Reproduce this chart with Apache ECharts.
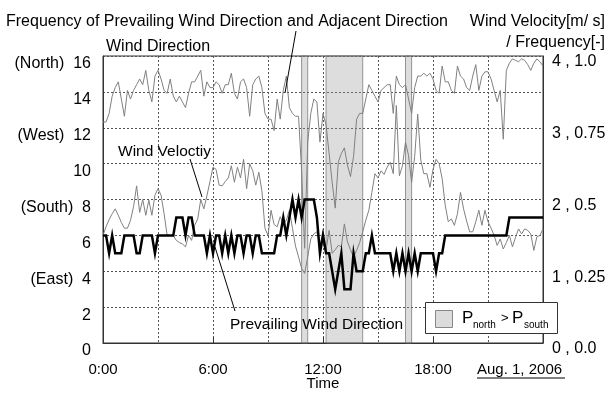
<!DOCTYPE html>
<html><head><meta charset="utf-8">
<script src="https://cdn.jsdelivr.net/npm/echarts@6/dist/echarts.min.js"></script>
<style>html,body{margin:0;padding:0;background:#fff}#c{width:615px;height:393px}</style>
</head><body><div id="c"></div>
<script>
// 10-minute time steps for Aug. 1, 2006
const times = [];
for (let i = 0; i <= 144; i++) { const m = i * 10; times.push(Math.floor(m / 60) + ':' + String(m % 60).padStart(2, '0')); }
const xTickLabels = ['0:00', '6:00', '12:00', '18:00'];
const dirTickValues = [16, 12, 8, 4];
const dirTickNames = ['(North)', '(West)', '(South)', '(East)'];
const velTickFreq = ['0.0', '0.25', '0.5', '0.75', '1.0'];

// Frequency of prevailing wind direction and adjacent direction [-]
const freq = [
0.77,0.77,0.80,0.86,0.89,0.91,0.85,0.79,0.88,0.85, 0.88,0.90,0.92,0.90,0.95,0.88,0.84,0.93,0.95,0.92,
0.88,0.87,0.92,0.86,0.84,0.86,0.84,0.82,0.87,0.91, 0.91,0.93,0.95,0.86,0.91,0.89,0.89,0.91,0.90,0.87,
0.90,0.90,0.94,0.87,0.85,0.91,0.92,0.89,
0.79,0.90,0.92,0.93,0.89,0.80,0.78,0.78,0.74,0.85, 0.78,0.88,0.93,0.82,0.80,0.79,0.79,0.60,0.33,0.70,
0.80,0.85,0.84,0.70,0.80,0.76,0.66,0.56,0.47,0.63, 0.66,0.68,0.62,0.58,0.65,0.78,0.80,0.80,0.85,0.90,
0.88,0.86,0.84,0.88,0.89,0.90,0.90,0.80,
0.93,0.90,0.89,0.90,0.85,0.80,0.89,0.93,0.93,0.94, 0.93,0.94,0.92,0.88,0.87,0.965,0.91,0.91,0.88,0.87,
0.965,0.93,0.92,0.89,0.88,0.93,0.97,0.88,0.93,0.945, 0.945,0.92,0.88,0.84,0.88,0.71,0.95,0.975,0.99,0.985,
0.98,0.99,0.985,0.97,0.95,0.975,0.99,0.98,0.965
];
// Wind velocity [m/s]
const velocity = [
1.50,1.62,1.72,1.80,1.87,1.78,1.68,1.60,1.60,1.71, 1.90,2.19,1.82,2.00,1.78,1.99,1.78,2.06,2.15,2.06,
1.80,1.50,1.50,1.50,1.43,1.40,1.38,1.34,1.50,1.43, 1.64,1.73,2.00,1.87,2.05,2.25,2.45,2.42,2.20,2.19,
2.25,2.30,2.47,2.24,2.45,2.30,2.56,2.15,
2.50,2.40,2.20,2.38,2.12,1.60,1.50,1.85,1.65,1.62, 1.76,1.66,1.71,1.85,1.60,1.35,1.20,1.04,0.97,1.20,
1.45,1.52,1.55,1.34,1.57,1.30,1.57,1.25,1.30,1.36, 1.34,1.66,1.41,1.30,1.20,1.29,1.40,1.55,1.71,1.85,
2.10,2.36,2.30,2.40,2.35,2.45,2.52,2.36,
3.31,2.33,2.47,2.80,2.61,2.24,2.60,3.19,2.55,2.36, 2.36,2.17,2.42,2.56,2.50,2.29,1.92,1.69,1.73,1.64,
1.80,2.10,1.87,1.70,1.55,1.55,1.69,1.85,1.64,1.85, 1.69,1.60,1.50,1.36,1.45,1.31,1.40,1.50,1.34,1.47,
1.59,1.52,1.59,1.57,1.52,1.29,1.48,1.50,1.59
];
// Prevailing wind direction (16 directions)
const direction = [
6,6,5,6,5,5,5,6,6,6, 6,5,5,6,6,6,6,5,6,6, 6,6,6,6,7,7,7,6,7,7, 6,6,6,6,5,6,5,6,6,5, 6,5,6,5,6,6,5,6,
6,5,6,6,5,5,5,5,5,6, 6,7,6,7,8,7,8,7,8,8, 8,8,7,5,6,5,5,4,3,4, 5,3,3,3,5,4,4,4,5,5, 6,5,5,5,5,5,5,4,
5,4,5,4,5,4,5,4,5,5, 5,5,5,4,5,5,6,6,6,6, 6,6,6,6,6,6,6,6,6,6, 6,6,6,6,6,6,6,7,7,7, 7,7,7,7,7,7,7,7,7
];
// Periods where P_north > P_south
const bandStart = ['10:50', '12:10', '16:30'];
const bandEnd = ['11:10', '14:10', '16:50'];

const FONT = '"Liberation Sans", Arial, sans-serif';
const chart = echarts.init(document.getElementById('c'), null, { renderer: 'canvas' });
const gridLine = { show: true, lineStyle: { color: '#555', type: [2, 2], width: 1 } };
const txt = (x, y, text, size, align, z) => ({ type: 'text', x, y, z: z || 10,
  style: { text, font: size + 'px ' + FONT, fill: '#000', textAlign: align, textVerticalAlign: 'middle', verticalAlign: 'middle' } });

chart.setOption({
  animation: false,
  textStyle: { fontFamily: FONT },
  grid: { left: 103, right: 72, top: 56, bottom: 50, show: true, borderColor: '#333', borderWidth: 1, backgroundColor: 'transparent' },
  xAxis: {
    type: 'category', data: times, boundaryGap: false,
    axisLine: { show: true, lineStyle: { color: '#333' } },
    axisTick: { show: true, inside: true, length: 6, interval: (i) => i % 36 === 0, lineStyle: { color: '#333' } },
    axisLabel: { interval: 0, formatter: (v) => xTickLabels.includes(v) ? v : '', fontSize: 15, color: '#000', margin: 19, fontFamily: FONT },
    splitLine: { show: true, interval: (i) => i % 18 === 0 && i > 0 && i < 144, lineStyle: { color: '#555', type: [2, 2], width: 1 } }
  },
  yAxis: [
    { type: 'value', min: 0, max: 16, interval: 2,
      axisLine: { show: true, lineStyle: { color: '#333' } }, axisTick: { show: false },
      axisLabel: { fontSize: 16, color: '#000', margin: 12, verticalAlign: 'top', fontFamily: FONT,
        formatter: (v) => { const k = dirTickValues.indexOf(v); return k >= 0 ? dirTickNames[k] + '  ' + v : String(v); } },
      splitLine: gridLine },
    { type: 'value', min: 0, max: 4, interval: 1, position: 'right',
      axisLine: { show: true, lineStyle: { color: '#333' } }, axisTick: { show: false },
      axisLabel: { fontSize: 16, color: '#000', margin: 9, verticalAlign: 'top', padding: [-2, 0, 0, 0], fontFamily: FONT,
        formatter: (v) => v + ' , ' + velTickFreq[v] },
      splitLine: { show: false } },
    { type: 'value', min: 0, max: 1, show: false, splitLine: { show: false } }
  ],
  series: [
    { name: 'Frequency', type: 'line', yAxisIndex: 2, data: freq, showSymbol: false, z: 3,
      lineStyle: { color: '#808080', width: 1 }, itemStyle: { color: '#808080' },
      markArea: { silent: true,
        itemStyle: { color: 'rgba(150,150,150,0.32)', borderColor: 'rgba(110,110,110,0.7)', borderWidth: 1 },
        data: bandStart.map((s, k) => [{ xAxis: s }, { xAxis: bandEnd[k] }]) } },
    { name: 'Wind Velocity', type: 'line', yAxisIndex: 1, data: velocity, showSymbol: false, z: 3,
      lineStyle: { color: '#808080', width: 1 }, itemStyle: { color: '#808080' } },
    { name: 'Prevailing Wind Direction', type: 'line', yAxisIndex: 0, data: direction, showSymbol: false, z: 4,
      lineStyle: { color: '#000', width: 2.5, join: 'miter' }, itemStyle: { color: '#000' } }
  ],
  graphic: [
    txt(6, 22, 'Frequency of Prevailing Wind Direction and Adjacent Direction', 16, 'left'),
    txt(605, 22, 'Wind Velocity[m/ s]', 16, 'right'),
    txt(605, 43, '/ Frequency[-]', 16, 'right'),
    txt(106, 47, 'Wind Direction', 16, 'left'),
    txt(118, 152, 'Wind Veloctiy', 15.5, 'left'),
    txt(230, 325, 'Prevailing Wind Direction', 15.5, 'left'),
    txt(323, 384, 'Time', 15, 'center'),
    txt(477, 370, 'Aug. 1, 2006', 15, 'left'),
    { type: 'line', shape: { x1: 477, y1: 378, x2: 565, y2: 378 }, style: { stroke: '#000', lineWidth: 1 } },
    { type: 'line', z: 10, shape: { x1: 296, y1: 31, x2: 285, y2: 93 }, style: { stroke: '#000', lineWidth: 1 } },
    { type: 'line', z: 10, shape: { x1: 190, y1: 159, x2: 202, y2: 197 }, style: { stroke: '#000', lineWidth: 1 } },
    { type: 'line', z: 10, shape: { x1: 215, y1: 247, x2: 235, y2: 311 }, style: { stroke: '#000', lineWidth: 1 } },
    { type: 'rect', z: 20, shape: { x: 425.5, y: 302.5, width: 132, height: 31 }, style: { fill: '#fff', stroke: '#333', lineWidth: 1 } },
    { type: 'rect', z: 21, shape: { x: 435.5, y: 310.5, width: 17, height: 17 }, style: { fill: '#dcdcdc', stroke: '#888', lineWidth: 1 } },
    txt(462, 318, 'P', 17, 'left', 21),
    txt(473, 325, 'north', 10, 'left', 21),
    txt(501, 318, '>', 13, 'left', 21),
    txt(512, 318, 'P', 17, 'left', 21),
    txt(524, 325, 'south', 10, 'left', 21)
  ]
});
</script></body></html>
